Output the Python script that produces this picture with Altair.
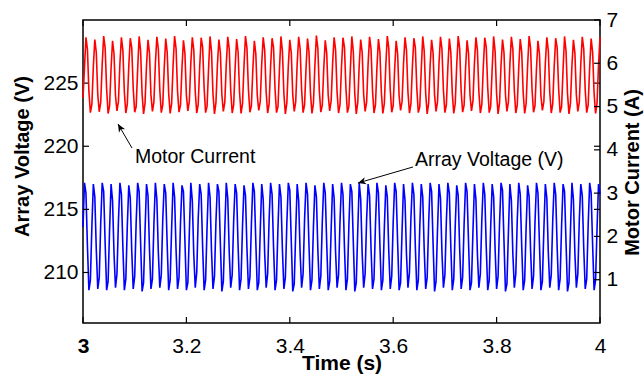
import math
import altair as alt
import pandas as pd

# ---------------- data ----------------
T_START = 3.0          # s, first sample
SAMPLE_RATE = 350      # samples per second of the plotted record

# Array voltage (V), blue trace, one sample every 1/350 s
ARRAY_VOLTAGE = [
    213.6,
    217.1, 216.3, 212.1, 208.6, 209.4, 213.6,
    217.0, 216.0, 211.8, 208.7, 209.6, 213.9,
    217.1, 216.4, 212.3, 208.6, 209.3, 213.4,
    217.0, 215.7, 211.5, 208.8, 209.9, 214.1,
    217.1, 216.2, 212.0, 208.6, 209.5, 213.7,
    216.9, 215.9, 211.7, 208.7, 209.7, 214.0,
    217.1, 216.4, 212.4, 208.5, 209.2, 213.3,
    217.0, 216.1, 211.9, 208.7, 209.5, 213.8,
    217.1, 215.8, 211.6, 208.8, 209.8, 214.2,
    217.0, 216.3, 212.2, 208.6, 209.4, 213.5,
    217.1, 216.0, 211.8, 208.7, 209.6, 213.9,
    216.9, 216.4, 212.5, 208.6, 209.2, 213.2,
    217.1, 215.7, 211.4, 208.8, 210.0, 214.3,
    217.0, 216.2, 212.0, 208.6, 209.4, 213.6,
    217.1, 216.0, 211.7, 208.7, 209.7, 214.0,
    217.0, 216.4, 212.3, 208.5, 209.3, 213.4,
    217.1, 215.9, 211.6, 208.8, 209.8, 214.1,
    217.0, 216.3, 212.1, 208.6, 209.5, 213.7,
    216.9, 216.1, 211.9, 208.7, 209.6, 213.8,
    217.1, 216.4, 212.4, 208.6, 209.2, 213.3,
    217.0, 215.8, 211.5, 208.8, 209.9, 214.2,
    217.1, 216.2, 212.0, 208.6, 209.4, 213.6,
    217.0, 216.0, 211.8, 208.7, 209.6, 213.9,
    217.1, 216.5, 212.5, 208.5, 209.1, 213.2,
    217.0, 215.7, 211.5, 208.8, 209.9, 214.2,
    217.1, 216.2, 212.1, 208.6, 209.4, 213.6,
    216.9, 216.0, 211.8, 208.7, 209.7, 214.0,
    217.1, 216.3, 212.3, 208.6, 209.3, 213.4,
    217.0, 215.9, 211.6, 208.8, 209.8, 214.1,
    217.1, 216.2, 212.0, 208.6, 209.5, 213.7,
    217.0, 216.4, 212.4, 208.5, 209.2, 213.3,
    217.1, 215.8, 211.5, 208.8, 209.9, 214.2,
    217.0, 216.1, 211.9, 208.7, 209.5, 213.8,
    217.1, 216.3, 212.2, 208.6, 209.4, 213.5,
    216.9, 216.0, 211.7, 208.7, 209.7, 214.0,
    217.1, 216.4, 212.4, 208.6, 209.2, 213.3,
    217.0, 215.7, 211.4, 208.8, 210.0, 214.3,
    217.1, 216.2, 212.0, 208.6, 209.4, 213.6,
    217.0, 216.0, 211.8, 208.7, 209.6, 213.9,
    217.1, 216.4, 212.3, 208.5, 209.3, 213.4,
    217.0, 215.9, 211.6, 208.8, 209.8, 214.1,
    217.1, 216.3, 212.1, 208.6, 209.5, 213.7,
    216.9, 216.1, 211.9, 208.7, 209.6, 213.8,
    217.1, 216.4, 212.4, 208.6, 209.2, 213.3,
    217.0, 215.8, 211.5, 208.8, 209.9, 214.2,
    217.1, 216.2, 212.0, 208.6, 209.4, 213.6,
    217.0, 216.0, 211.8, 208.7, 209.7, 213.9,
    217.1, 216.5, 212.5, 208.5, 209.1, 213.2,
    217.0, 215.7, 211.5, 208.8, 209.9, 214.2,
    217.1, 216.2, 212.1, 208.6, 209.4, 213.6,
    216.9, 216.0, 211.8, 208.7, 209.7, 214.0,
    217.1, 216.3, 212.3, 208.6, 209.3, 213.4,
    217.0, 215.9, 211.6, 208.8, 209.8, 214.1,
    217.1, 216.2, 212.0, 208.6, 209.5, 213.7,
    217.0, 216.4, 212.4, 208.5, 209.2, 213.3,
    217.1, 215.8, 211.5, 208.8, 209.9, 214.2,
    217.0, 216.1, 211.9, 208.7, 209.5, 213.8,
    217.1, 216.3, 212.2, 208.6, 209.4, 213.5,
    217.0, 216.2,
]

# Motor current (A), red trace, same sampling
MOTOR_CURRENT = [
    5.20, 5.90,
    6.60, 6.32, 5.35, 4.86, 5.05, 5.92,
    6.55, 6.25, 5.28, 4.88, 5.10, 5.98,
    6.63, 6.35, 5.40, 4.84, 5.02, 5.88,
    6.52, 6.22, 5.25, 4.90, 5.12, 6.00,
    6.60, 6.30, 5.33, 4.85, 5.06, 5.93,
    6.58, 6.36, 5.42, 4.87, 5.00, 5.86,
    6.62, 6.28, 5.30, 4.83, 5.08, 5.95,
    6.54, 6.24, 5.27, 4.89, 5.11, 5.99,
    6.61, 6.33, 5.38, 4.86, 5.04, 5.90,
    6.57, 6.26, 5.31, 4.84, 5.07, 5.96,
    6.63, 6.34, 5.36, 4.87, 5.03, 5.89,
    6.53, 6.23, 5.26, 4.90, 5.13, 6.01,
    6.60, 6.31, 5.34, 4.85, 5.05, 5.92,
    6.59, 6.37, 5.43, 4.86, 5.01, 5.87,
    6.62, 6.27, 5.29, 4.83, 5.09, 5.96,
    6.55, 6.25, 5.28, 4.89, 5.10, 5.98,
    6.61, 6.33, 5.37, 4.85, 5.04, 5.91,
    6.56, 6.26, 5.32, 4.84, 5.07, 5.95,
    6.63, 6.35, 5.39, 4.87, 5.02, 5.88,
    6.52, 6.22, 5.25, 4.91, 5.12, 6.00,
    6.60, 6.30, 5.33, 4.85, 5.06, 5.93,
    6.58, 6.36, 5.41, 4.86, 5.00, 5.86,
    6.62, 6.28, 5.30, 4.83, 5.08, 5.95,
    6.54, 6.24, 5.27, 4.89, 5.11, 5.99,
    6.61, 6.33, 5.38, 4.86, 5.04, 5.90,
    6.57, 6.26, 5.31, 4.84, 5.07, 5.96,
    6.64, 6.34, 5.36, 4.87, 5.03, 5.89,
    6.53, 6.23, 5.26, 4.90, 5.13, 6.01,
    6.60, 6.31, 5.34, 4.85, 5.05, 5.92,
    6.59, 6.37, 5.43, 4.86, 5.01, 5.87,
    6.62, 6.27, 5.29, 4.83, 5.09, 5.96,
    6.55, 6.25, 5.28, 4.89, 5.10, 5.98,
    6.61, 6.33, 5.37, 4.85, 5.04, 5.91,
    6.56, 6.26, 5.32, 4.84, 5.07, 5.95,
    6.63, 6.35, 5.39, 4.87, 5.02, 5.88,
    6.52, 6.22, 5.25, 4.91, 5.12, 6.00,
    6.60, 6.30, 5.33, 4.85, 5.06, 5.93,
    6.58, 6.36, 5.41, 4.86, 5.00, 5.86,
    6.62, 6.28, 5.30, 4.83, 5.08, 5.95,
    6.54, 6.24, 5.27, 4.89, 5.11, 5.99,
    6.61, 6.33, 5.38, 4.86, 5.04, 5.90,
    6.57, 6.26, 5.31, 4.84, 5.07, 5.96,
    6.63, 6.34, 5.36, 4.87, 5.03, 5.89,
    6.53, 6.23, 5.26, 4.90, 5.13, 6.01,
    6.60, 6.31, 5.34, 4.85, 5.05, 5.92,
    6.59, 6.37, 5.43, 4.86, 5.01, 5.87,
    6.62, 6.27, 5.29, 4.83, 5.09, 5.96,
    6.55, 6.25, 5.28, 4.89, 5.10, 5.98,
    6.61, 6.33, 5.37, 4.85, 5.04, 5.91,
    6.56, 6.26, 5.32, 4.84, 5.07, 5.95,
    6.63, 6.35, 5.39, 4.87, 5.02, 5.88,
    6.52, 6.22, 5.25, 4.91, 5.12, 6.00,
    6.60, 6.30, 5.33, 4.85, 5.06, 5.93,
    6.58, 6.36, 5.41, 4.86, 5.00, 5.86,
    6.62, 6.28, 5.30, 4.83, 5.08, 5.95,
    6.54, 6.24, 5.27, 4.89, 5.11, 5.99,
    6.61, 6.33, 5.38, 4.86, 5.04, 5.90,
    6.57, 6.26, 5.31, 4.84, 5.07, 5.96,
    6.60,
]

X_DOMAIN = [3, 4]
X_TICKS = [3, 3.2, 3.4, 3.6, 3.8, 4]
V_DOMAIN = [206, 230]
V_TICKS = [210, 215, 220, 225]
A_DOMAIN = [0, 7]
A_TICKS = [1, 2, 3, 4, 5, 6, 7]

# annotations (time, voltage-scale positions)
ANNOT_TEXT = ["Motor Current", "Array Voltage (V)"]
ANNOT_T = [3.1006, 3.6422]
ANNOT_V = [219.15, 218.9]
ARROW_TAIL_T = [3.0948, 3.6383]
ARROW_TAIL_V = [219.86, 218.36]
ARROW_TIP_T = [3.0677, 3.5319]
ARROW_TIP_V = [221.76, 217.09]

# ---------------- layout ----------------
W, H = 517, 303
FONT = "Liberation Sans"
TICK = 6

volt = pd.DataFrame({
    "t": [T_START + i / SAMPLE_RATE for i in range(len(ARRAY_VOLTAGE))],
    "v": ARRAY_VOLTAGE,
})
curr = pd.DataFrame({
    "t": [T_START + i / SAMPLE_RATE for i in range(len(MOTOR_CURRENT))],
    "a": MOTOR_CURRENT,
})

xscale = alt.Scale(domain=X_DOMAIN, nice=False, zero=False)
vscale = alt.Scale(domain=V_DOMAIN, nice=False, zero=False)
ascale = alt.Scale(domain=A_DOMAIN, nice=False, zero=False)

x_axis = alt.Axis(
    values=X_TICKS, format=".2~f", ticks=False, domain=False, grid=False,
    labelFontSize=21, labelColor="black", labelPadding=12,
    labelFontWeight={"expr": "datum.value == 3 ? 'bold' : 'normal'"},
    labelOverlap=False, labelFlush=False, labelBound=False,
    title="Time (s)", titleFontSize=21, titleFontWeight="bold", titleColor="black",
    titleX=W / 2, titleY=40, titleBaseline="middle", titleAlign="center",
)
v_axis = alt.Axis(
    values=V_TICKS, ticks=False, domain=False, grid=False, orient="left",
    labelFontSize=21, labelColor="black", labelPadding=5,
    title="Array Voltage (V)", titleFontSize=20, titleFontWeight="bold", titleColor="black",
    titleAngle=270, titleX=-61, titleY=136, titleBaseline="middle", titleAlign="center",
)
a_axis = alt.Axis(
    values=A_TICKS, ticks=False, domain=False, grid=False, orient="right",
    labelFontSize=21, labelColor="black", labelPadding=6,
    title="Motor Current (A)", titleFontSize=20, titleFontWeight="bold", titleColor="black",
    titleAngle=270, titleX=32, titleY=152, titleBaseline="middle", titleAlign="center",
)

X = lambda f: alt.X(f, scale=xscale, axis=x_axis)
YV = lambda f: alt.Y(f, scale=vscale, axis=v_axis)
YA = lambda f: alt.Y(f, scale=ascale, axis=a_axis)

blue = alt.Chart(volt).mark_line(
    color="#0000FF", strokeWidth=1.6, interpolate="linear"
).encode(x=X("t:Q"), y=YV("v:Q"))

red = alt.Chart(curr).mark_line(
    color="#FF0000", strokeWidth=1.6, interpolate="linear"
).encode(x=X("t:Q"), y=YA("a:Q"))

vt = pd.DataFrame({"v": V_TICKS})
at = pd.DataFrame({"a": A_TICKS})
xt = pd.DataFrame({"t": X_TICKS})

tick_style = dict(color="black", strokeWidth=1.2)
v_left = alt.Chart(vt).mark_rule(**tick_style).encode(
    y=YV("v:Q"), x=alt.value(0), x2=alt.value(TICK))
v_right = alt.Chart(vt).mark_rule(**tick_style).encode(
    y=YV("v:Q"), x=alt.value(W - TICK), x2=alt.value(W))
x_bottom = alt.Chart(xt).mark_rule(**tick_style).encode(
    x=X("t:Q"), y=alt.value(H - TICK), y2=alt.value(H))
x_top = alt.Chart(xt).mark_rule(**tick_style).encode(
    x=X("t:Q"), y=alt.value(0), y2=alt.value(TICK))
a_right = alt.Chart(at).mark_rule(**tick_style).encode(
    y=YA("a:Q"), x=alt.value(W - TICK), x2=alt.value(W))

# annotations
ann = pd.DataFrame({
    "label": ANNOT_TEXT, "t": ANNOT_T, "v": ANNOT_V,
    "t0": ARROW_TAIL_T, "v0": ARROW_TAIL_V, "t1": ARROW_TIP_T, "v1": ARROW_TIP_V,
})
ann["ang"] = [
    math.degrees(math.atan2((t1 - t0) * W / (X_DOMAIN[1] - X_DOMAIN[0]),
                            (v1 - v0) * H / (V_DOMAIN[1] - V_DOMAIN[0]))) % 360
    for t0, v0, t1, v1 in zip(ARROW_TAIL_T, ARROW_TAIL_V, ARROW_TIP_T, ARROW_TIP_V)
]

texts = alt.Chart(ann).mark_text(
    align="left", baseline="middle", fontSize=19.5, color="black", font=FONT
).encode(x=X("t:Q"), y=YV("v:Q"), text="label:N")
shafts = alt.Chart(ann).mark_rule(color="black", strokeWidth=1).encode(
    x=X("t0:Q"), x2="t1:Q", y=YV("v0:Q"), y2="v1:Q")
heads = alt.Chart(ann).mark_point(
    shape="M0,0 L0.75,1.7 L0,1.2 L-0.75,1.7 Z", filled=True, color="black",
    size=90, opacity=1,
).encode(x=X("t1:Q"), y=YV("v1:Q"), angle=alt.Angle("ang:Q", scale=None))

v_group = alt.layer(blue, v_left, v_right, x_bottom, x_top, shafts, heads, texts)
a_group = alt.layer(red, a_right)

chart = alt.layer(v_group, a_group).resolve_scale(y="independent").properties(
    width=W, height=H,
    padding={"left": 83, "top": 20, "right": 44, "bottom": 52},
    autosize=alt.AutoSizeParams(type="none"),
    background="white",
).configure(font=FONT).configure_view(stroke="black", strokeWidth=1.5)

chart.save("out.html", embed_options={"renderer": "svg", "actions": False})
